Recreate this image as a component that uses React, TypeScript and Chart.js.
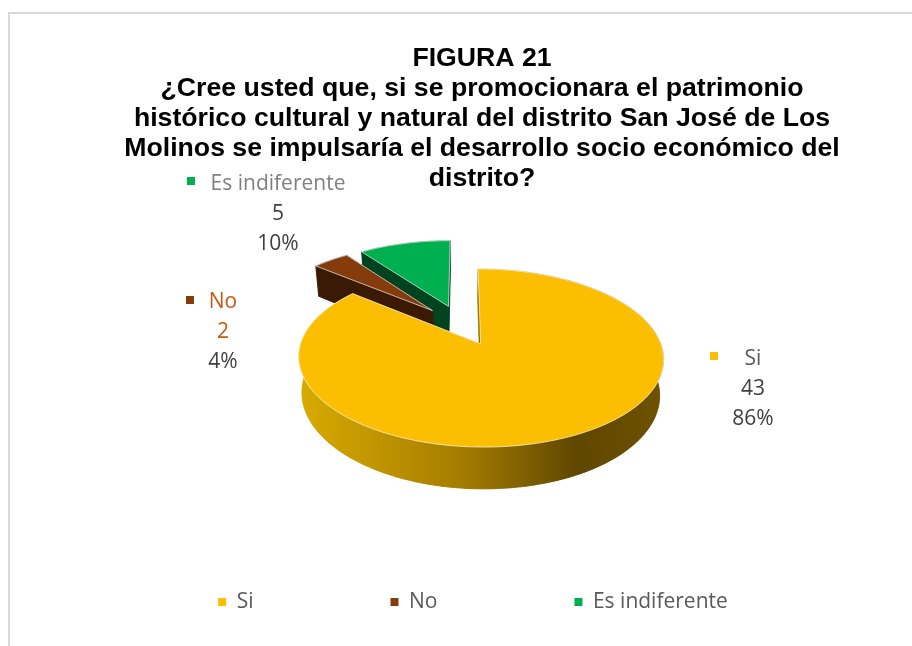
import React, { useEffect, useRef } from "react";
import { Chart, registerables } from "chart.js";

Chart.register(...registerables);

const categories = ["Si", "No", "Es indiferente"];
const values = [43, 2, 5];
const sliceColors = ["#FBBE00", "#843C0C", "#00B050"];
const wallColors = ["#9A7400", "#3A1A05", "#00431F"];
const labelNameColors = ["#595959", "#C55A11", "#7F7F7F"];
const titleLines = [
  "FIGURA 21",
  "¿Cree usted que, si se promocionara el patrimonio",
  "histórico cultural y natural del distrito San José de Los",
  "Molinos se impulsaría el desarrollo socio económico del",
  "distrito?",
];

const FONT = '"Open Sans", sans-serif';
const RADIUS = 100;
const EXPLODE = 0.25;
// perspective of the pie's plane on the page
const VIEW = { cx: 461.5, cy: 325, sx: 174, sy: 81, k: 0.152, depth: 34, shrink: 0.98 };
// data label anchors: centre of the text column, first line, marker
const LABEL_POS = [
  { x: 753, y: 359.5, mx: 714, my: 356 },
  { x: 223, y: 302.5, mx: 190, my: 300 },
  { x: 278, y: 184.5, mx: 191, my: 181 },
];

type P = [number, number];

function project(u: number, v: number): P {
  const d = 1 - VIEW.k * v;
  return [VIEW.cx + (VIEW.sx * u) / d, VIEW.cy + (VIEW.sy * v) / d];
}
function lower(u: number, v: number): P {
  const [x, y] = project(u, v);
  const d = 1 - VIEW.k * v;
  return [VIEW.cx + (x - VIEW.cx) * VIEW.shrink, y + VIEW.depth / d];
}
function poly(ctx: CanvasRenderingContext2D, pts: P[]) {
  ctx.beginPath();
  pts.forEach((p, i) => (i ? ctx.lineTo(p[0], p[1]) : ctx.moveTo(p[0], p[1])));
  ctx.closePath();
}

const pie3d = {
  id: "pie3d",
  afterLayout(chart: any) {
    const t = chart.titleBlock;
    t.left += 26;
    t.right += 26;
    const dy = 44 - t.top;
    t.top += dy;
    t.bottom += dy;
    const l = chart.legend;
    const pad = l.options.labels.padding;
    const h = l.bottom - l.top;
    l.left += 17;
    l.right += 17;
    l.top = 591.5 - pad;
    l.bottom = l.top + h;
  },
  beforeDatasetsDraw(chart: any) {
    const ctx: CanvasRenderingContext2D = chart.ctx;
    ctx.save();
    ctx.strokeStyle = "#D9D9D9";
    ctx.lineWidth = 2;
    ctx.beginPath();
    ctx.moveTo(9, 646);
    ctx.lineTo(9, 13);
    ctx.lineTo(912, 13);
    ctx.stroke();

    const arcs = chart.getDatasetMeta(0).data;
    const gradient = ctx.createLinearGradient(298, 0, 664, 0);
    gradient.addColorStop(0, "#D8AB00");
    gradient.addColorStop(0.45, "#A57C00");
    gradient.addColorStop(0.76, "#5F4700");
    gradient.addColorStop(1, "#6E5200");

    [2, 1, 0].forEach((i) => {
      const a = arcs[i];
      const r = a.outerRadius;
      const mid = (a.startAngle + a.endAngle) / 2;
      const e = a.options.offset / r;
      const ox = Math.cos(mid) * e;
      const oy = Math.sin(mid) * e;
      const n = Math.max(8, Math.round((a.endAngle - a.startAngle) * 40));
      const plane: P[] = [];
      for (let s = 0; s <= n; s++) {
        const t = a.startAngle + ((a.endAngle - a.startAngle) * s) / n;
        plane.push([ox + Math.cos(t), oy + Math.sin(t)]);
      }
      const top = plane.map((p) => project(p[0], p[1]));
      const bottom = plane.map((p) => lower(p[0], p[1]));
      const apexTop = project(ox, oy);
      const apexBottom = lower(ox, oy);
      const wall = i === 0 ? gradient : wallColors[i];
      ctx.fillStyle = wall;
      ctx.strokeStyle = wall;
      ctx.lineWidth = 0.5;
      const faces: P[][] = [
        [apexBottom, ...bottom],
        [apexTop, top[0], bottom[0], apexBottom],
        [apexTop, top[n], bottom[n], apexBottom],
        [...top, ...bottom.slice().reverse()],
      ];
      faces.forEach((f) => {
        poly(ctx, f);
        ctx.fill();
        ctx.stroke();
      });
      poly(ctx, [apexTop, ...top]);
      ctx.fillStyle = a.options.backgroundColor;
      ctx.fill();
      ctx.strokeStyle = "rgba(255,255,255,0.65)";
      ctx.lineWidth = 1;
      ctx.stroke();
    });
    ctx.restore();
    return false;
  },
  afterDraw(chart: any) {
    const ctx: CanvasRenderingContext2D = chart.ctx;
    const data: number[] = chart.data.datasets[0].data;
    const total = data.reduce((s, v) => s + v, 0);
    ctx.save();
    ctx.font = `21px ${FONT}`;
    ctx.textAlign = "center";
    ctx.textBaseline = "middle";
    data.forEach((v, i) => {
      const p = LABEL_POS[i];
      ctx.fillStyle = sliceColors[i];
      ctx.fillRect(p.mx - 4, p.my - 4, 8, 8);
      ctx.fillStyle = labelNameColors[i];
      ctx.fillText(String(chart.data.labels[i]), p.x, p.y);
      ctx.fillStyle = i === 1 ? "#C55A11" : "#404040";
      ctx.fillText(String(v), p.x, p.y + 30);
      ctx.fillStyle = "#404040";
      ctx.fillText(`${Math.round((v / total) * 100)}%`, p.x, p.y + 59.5);
    });
    ctx.restore();
  },
};

export default function App() {
  const ref = useRef<HTMLCanvasElement>(null);
  useEffect(() => {
    const chart = new Chart(ref.current as HTMLCanvasElement, {
      type: "pie",
      data: {
        labels: categories,
        datasets: [
          {
            data: values,
            backgroundColor: sliceColors,
            borderWidth: 0,
            radius: RADIUS,
            offset: RADIUS * EXPLODE,
          },
        ],
      },
      options: {
        responsive: false,
        animation: false,
        plugins: {
          tooltip: { enabled: false },
          title: {
            display: true,
            text: titleLines,
            color: "#000000",
            padding: 0,
            font: { family: '"Liberation Sans", Arial, sans-serif', size: 26.67, weight: "bold", lineHeight: 1.125 },
          },
          legend: {
            position: "bottom",
            labels: {
              boxWidth: 8,
              boxHeight: 8,
              padding: 137,
              color: "#595959",
              font: { family: FONT, size: 21 },
            },
          },
        },
      },
      plugins: [pie3d],
    } as any);
    return () => chart.destroy();
  }, []);
  return (
    <div style={{ position: "fixed", left: 0, top: 0, width: 912, height: 646, overflow: "hidden", background: "#fff" }}>
      <canvas ref={ref} width={912} height={646} style={{ display: "block" }} />
    </div>
  );
}
